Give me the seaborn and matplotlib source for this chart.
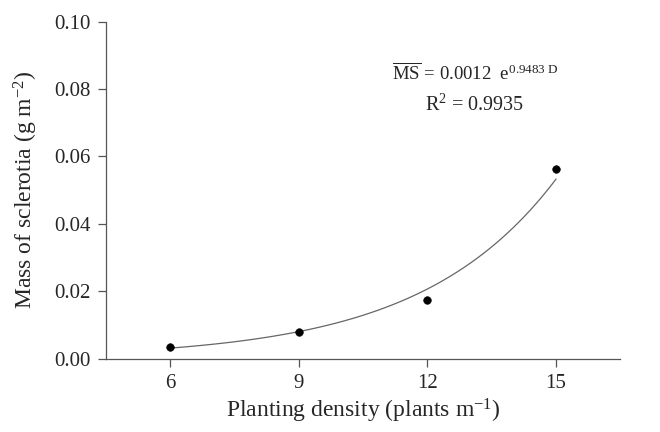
import numpy as np
import pandas as pd
import matplotlib
matplotlib.use('Agg')
import matplotlib.pyplot as plt
import seaborn as sns

# Dados observados
density = [6, 9, 12, 15]
mass = [0.0033, 0.0078, 0.0173, 0.0562]

# Modelo ajustado: MS = a * exp(b * D), D = 1..4
coef_a = 0.0012
coef_b = 0.9483

sns.set_style('ticks')
plt.rcParams['font.family'] = ['Liberation Serif', 'DejaVu Serif']
plt.rcParams['mathtext.fontset'] = 'custom'
plt.rcParams['mathtext.rm'] = 'Liberation Serif'
plt.rcParams['mathtext.it'] = 'Liberation Serif:italic'

df = pd.DataFrame({'density': density, 'mass': mass})

x_fit = np.linspace(density[0], density[-1], 100)
d_fit = (x_fit - 3) / 3
fit_df = pd.DataFrame({'density': x_fit, 'mass': coef_a * np.exp(coef_b * d_fit)})

fig, ax = plt.subplots(figsize=(6.6, 4.32), dpi=100)

sns.lineplot(data=fit_df, x='density', y='mass', color='#666666', linewidth=0.9, ax=ax)
sns.scatterplot(data=df, x='density', y='mass', color='black', s=30, edgecolor='black',
                zorder=3, ax=ax)

ax.set_xlim(4.5, 16.5)
ax.set_ylim(0, 0.10)
ax.set_xticks([6, 9, 12, 15])
ax.set_yticks(np.arange(0, 0.101, 0.02))
ax.set_yticklabels([f'{v:.2f}' for v in np.arange(0, 0.101, 0.02)])
ax.tick_params(axis='both', labelsize=15, color='#555555', length=6, width=0.9, pad=5)
for side in ['left', 'bottom']:
    ax.spines[side].set_color('#555555')
    ax.spines[side].set_linewidth(0.9)
sns.despine(ax=ax)

ax.set_xlabel('Planting density (plants m$^{-1}$)', fontsize=17, labelpad=3)
ax.set_ylabel('Mass of sclerotia (g m$^{-2}$)', fontsize=17, labelpad=10)

ax.text(0.718, 0.848, r'$\overline{\mathrm{MS}}$ = 0.0012  e$^{0.9483\ \mathrm{D}}$',
        transform=ax.transAxes, fontsize=13.5, ha='center', va='center')
ax.text(0.716, 0.752, 'R$^{2}$ = 0.9935',
        transform=ax.transAxes, fontsize=14.5, ha='center', va='center')

plt.subplots_adjust(left=0.16, right=0.94, top=0.95, bottom=0.17)
plt.savefig('out.png', dpi=100)
